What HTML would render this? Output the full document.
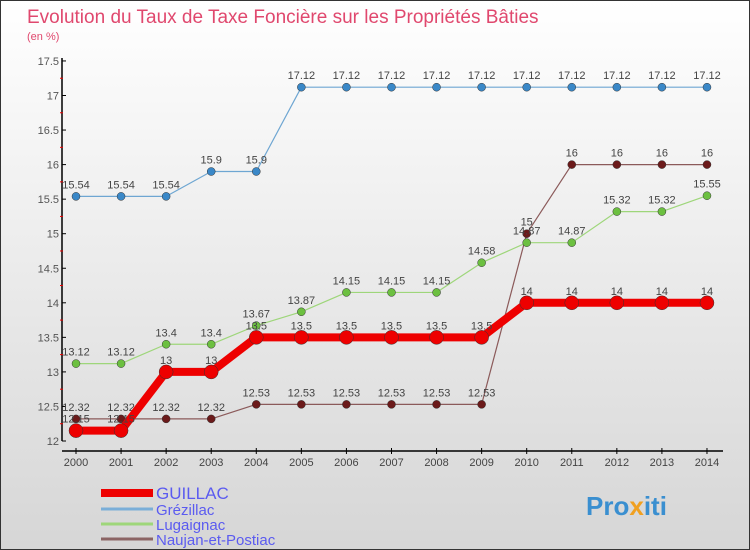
<!DOCTYPE html>
<html><head><meta charset="utf-8"><style>
body{margin:0}
#c{width:750px;height:550px;position:relative;box-sizing:border-box;border:1px solid #333;background:linear-gradient(#ffffff,#d6d6d6);font-family:"Liberation Sans",sans-serif;overflow:hidden}
</style></head><body>
<div id="c">
<svg id="s" width="750" height="550" style="position:absolute;left:0;top:0">
<text x="26" y="22" font-size="19" fill="#e0486e">Evolution du Taux de Taxe Foncière sur les Propriétés Bâties</text>
<text x="26" y="39" font-size="11" fill="#e0486e">(en %)</text>
<g id="axes"></g><g id="marks"></g>
<text x="585" y="514" font-size="26" font-weight="bold" fill="#3a8fd0">Pro<tspan fill="#f0a020">x</tspan>iti</text>
</svg>
</div>
<script>
const years=[2000,2001,2002,2003,2004,2005,2006,2007,2008,2009,2010,2011,2012,2013,2014];
const yTicks=[12,12.5,13,13.5,14,14.5,15,15.5,16,16.5,17,17.5];
const guillac=[12.15,12.15,13,13,13.5,13.5,13.5,13.5,13.5,13.5,14,14,14,14,14];
const grezillac=[15.54,15.54,15.54,15.9,15.9,17.12,17.12,17.12,17.12,17.12,17.12,17.12,17.12,17.12,17.12];
const lugaignac=[13.12,13.12,13.4,13.4,13.67,13.87,14.15,14.15,14.15,14.58,14.87,14.87,15.32,15.32,15.55];
const naujan=[12.32,12.32,12.32,12.32,12.53,12.53,12.53,12.53,12.53,12.53,15,16,16,16,16];
const seriesNames=["GUILLAC","Grézillac","Lugaignac","Naujan-et-Postiac"];
const NS="http://www.w3.org/2000/svg";
const X=i=>75+i*45.07, Y=v=>440-(v-12)*69.1;
function mk(t,a,p){const e=document.createElementNS(NS,t);for(const k in a)e.setAttribute(k,a[k]);p.appendChild(e);return e;}
const ax=document.getElementById('axes'),mk2=document.getElementById('marks');
let l=mk('line',{x1:61,y1:57,x2:61,y2:440,stroke:'#000','stroke-width':1.5},ax);


l=mk('line',{x1:61,y1:450,x2:722,y2:450,stroke:'#000','stroke-width':1.5},ax);


yTicks.forEach(v=>{mk('line',{x1:61,y1:Y(v),x2:65,y2:Y(v),stroke:'#000'},ax);
 if(v<17.5)mk('line',{x1:59,y1:Y(v+0.25),x2:62,y2:Y(v+0.25),stroke:'#e00'},ax);
 const t=mk('text',{x:58,y:Y(v)+4,'font-size':11,fill:'#555','text-anchor':'end'},ax);t.textContent=v;
 
 });
years.forEach((y,i)=>{mk('line',{x1:X(i),y1:447,x2:X(i),y2:453,stroke:'#000'},ax);
 const t=mk('text',{x:X(i),y:465,'font-size':11,fill:'#444','text-anchor':'middle'},ax);t.textContent=y;
 
 });
function series(vals,color,dot,w,r,name){
 const p=mk('polyline',{points:vals.map((v,i)=>X(i)+','+Y(v)).join(' '),fill:'none',stroke:color,'stroke-width':w,'stroke-linejoin':'round'},mk2);
 
 
 vals.forEach((v,i)=>{const c=mk('circle',{cx:X(i),cy:Y(v),r:r,fill:dot,stroke:'#333','stroke-width':0.5},mk2);
  
  
  const t=mk('text',{x:X(i),y:Y(v)-8,'font-size':11,fill:'#444','text-anchor':'middle'},mk2);t.textContent=v;
  
  });
}
series(naujan,'#8b5a5a','#6b1a1a',1.2,4,'naujan');
series(lugaignac,'#9ed67a','#6cc040',1.2,4,'lugaignac');
series(grezillac,'#6ea6d2','#3a88c8',1.2,4,'grezillac');
series(guillac,'#ee0000','#ee0000',8,7,'guillac');
const cols=['#ee0000','#7aaed8','#9ed67a','#8b6464'],ws=[8,3,3,3],ly=[492,508,523,538];
seriesNames.forEach((n,i)=>{const s=document.getElementById('s');
 const ln=mk('line',{x1:100,y1:ly[i],x2:152,y2:ly[i],stroke:cols[i],'stroke-width':ws[i]},s);
 
 
 const t=mk('text',{x:155,y:ly[i]+6,'font-size':i==0?17:15,fill:'#5b5bf0'},s);t.textContent=n;
 
 });
</script>
</body></html>
